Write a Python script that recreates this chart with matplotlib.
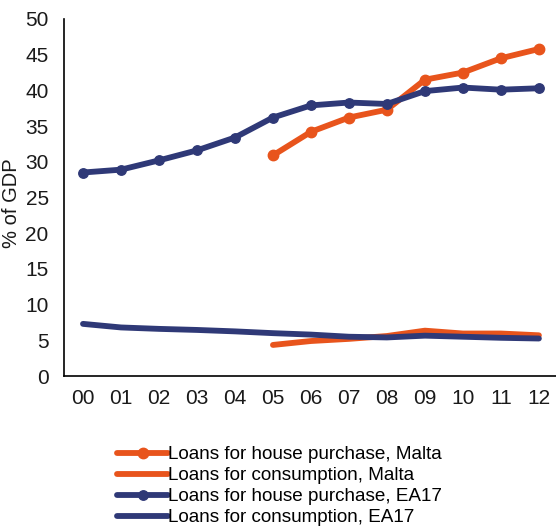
import matplotlib
matplotlib.use("Agg")
import matplotlib.pyplot as plt

plt.rcParams['font.family'] = ['Liberation Sans', 'DejaVu Sans']

years = ["00", "01", "02", "03", "04", "05", "06", "07", "08", "09", "10", "11", "12"]
malta_years = ["05", "06", "07", "08", "09", "10", "11", "12"]

house_malta = [30.9, 34.2, 36.2, 37.3, 41.5, 42.5, 44.5, 45.8]
cons_malta = [4.35, 4.9, 5.2, 5.6, 6.35, 5.95, 5.95, 5.7]
house_ea17 = [28.5, 28.9, 30.2, 31.6, 33.4, 36.2, 37.9, 38.3, 38.1, 39.9, 40.4, 40.1, 40.3]
cons_ea17 = [7.3, 6.8, 6.6, 6.45, 6.25, 6.0, 5.8, 5.5, 5.4, 5.65, 5.5, 5.35, 5.25]

labels = ["Loans for house purchase, Malta", "Loans for consumption, Malta",
          "Loans for house purchase, EA17", "Loans for consumption, EA17"]

orange = "#E8541C"
navy = "#2F3977"

fig = plt.figure(figsize=(5.56, 5.28), dpi=100)
ax = fig.add_axes([64/556, (528-376)/528, 1 - 64/556, (376-19)/528])

xi = {y: i for i, y in enumerate(years)}
xm = [xi[y] for y in malta_years]
xe = list(range(len(years)))

l1, = ax.plot(xm, house_malta, color=orange, lw=4.2, marker='o', ms=7.5, solid_capstyle='round')
l2, = ax.plot(xm, cons_malta, color=orange, lw=4.2, solid_capstyle='round')
l3, = ax.plot(xe, house_ea17, color=navy, lw=4.2, marker='o', ms=6.8, solid_capstyle='round')
l4, = ax.plot(xe, cons_ea17, color=navy, lw=4.2, solid_capstyle='round')

ax.set_xlim(-0.5, 12.45)
ax.set_ylim(0, 50)
ax.set_yticks(range(0, 51, 5))
ax.set_xticks(xe)
ax.set_xticklabels(years)
ax.tick_params(axis='both', length=0, labelsize=15, colors='#1a1a1a')
ax.tick_params(axis='x', pad=9)
ax.tick_params(axis='y', pad=11)
for s in ['top', 'right']:
    ax.spines[s].set_visible(False)
for s in ['left', 'bottom']:
    ax.spines[s].set_linewidth(1.2)
    ax.spines[s].set_color('black')

fig.text(2 / 556, 1 - 203 / 528, "% of GDP", fontsize=14.5, rotation=90,
         ha='left', va='center', color='#1a1a1a')

leg = fig.legend([l1, l2, l3, l4], labels, loc='upper left',
                 bbox_to_anchor=(117/556, 1 - 446/528), frameon=False,
                 fontsize=13.6, handlelength=2.7, handletextpad=0.0,
                 labelspacing=0.2, borderpad=0, borderaxespad=0)

fig.savefig("out.png", dpi=100)
